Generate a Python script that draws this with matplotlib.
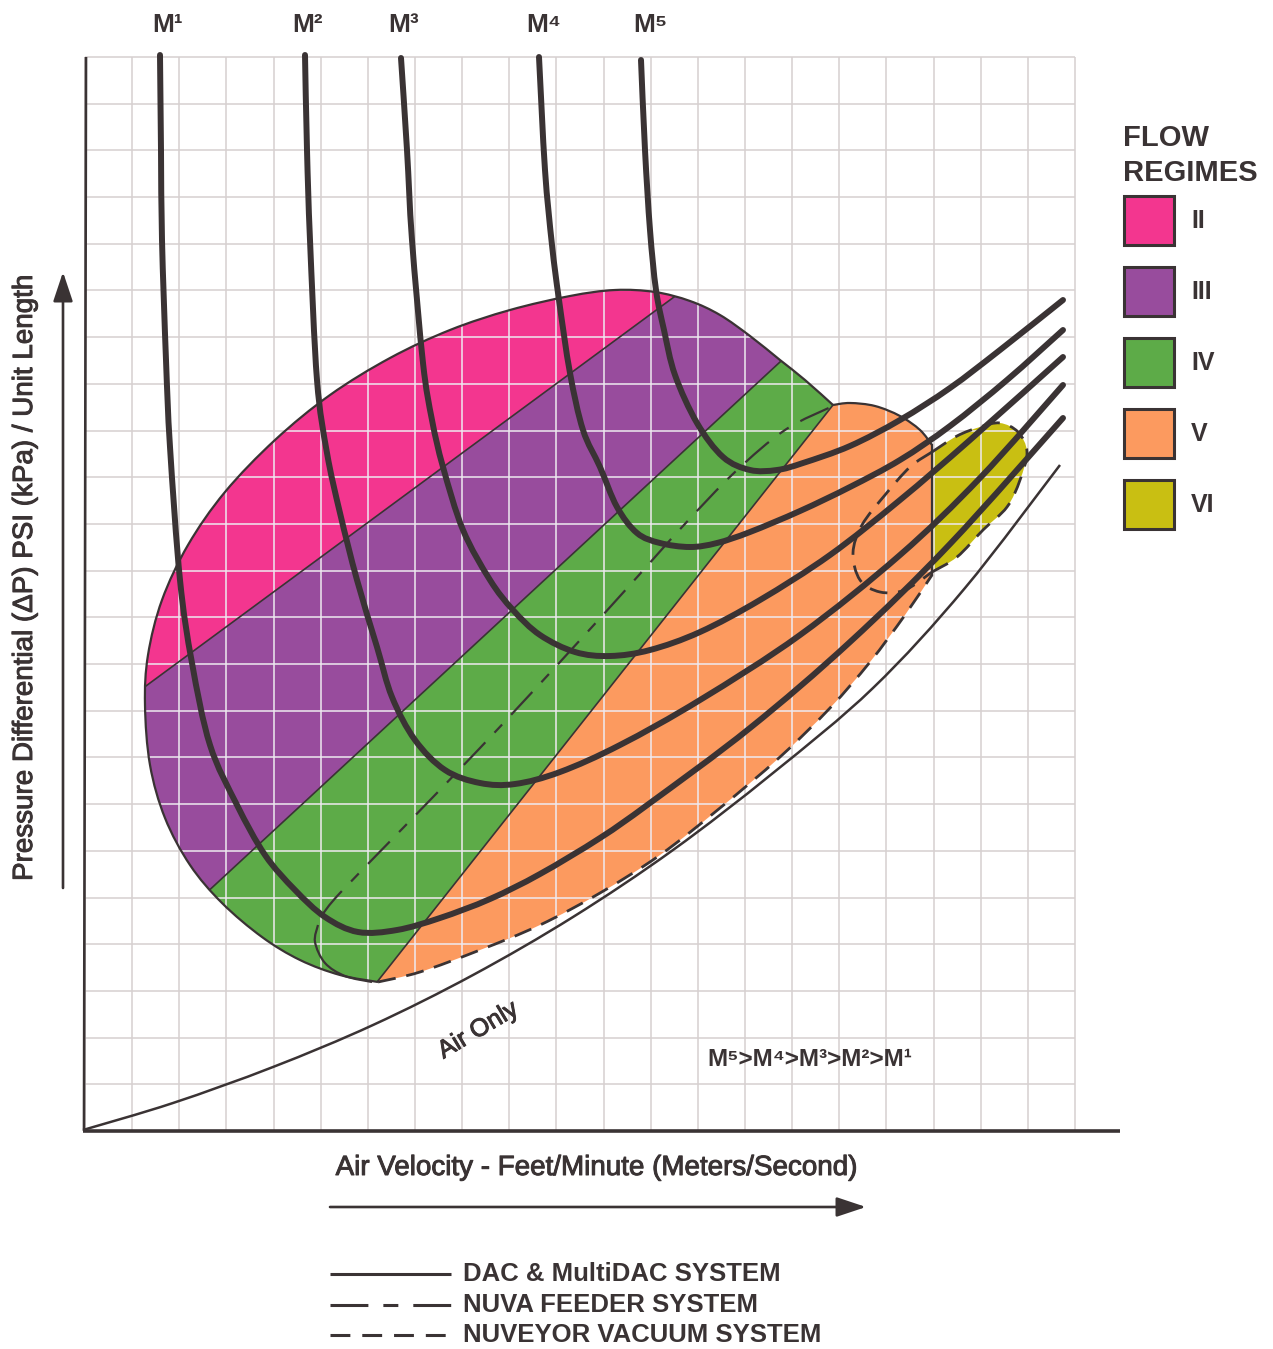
import numpy as np
import matplotlib
matplotlib.use("Agg")
import matplotlib.pyplot as plt
from matplotlib.path import Path
from matplotlib.patches import PathPatch, Polygon, Rectangle
import matplotlib.patheffects as pe

# pixel-space drawing of a pneumatic conveying phase diagram
W, H = 1273, 1349
DARK = "#3a3334"
FONT = ["Liberation Sans", "DejaVu Sans"]

# flow regime colours
regime_names = ["II", "III", "IV", "V", "VI"]
regime_colors = ["#f3368f", "#984c9d", "#5dab48", "#fc9a5f", "#c9bf12"]

# M curves (material loading), traced top -> minimum -> right end
m_labels = ["M¹", "M²", "M³", "M⁴", "M⁵"]
m1 = [(160, 55), (161, 150), (162, 240), (166, 360), (170, 447), (180, 580), (192, 663),
      (210, 745), (237, 805), (265, 855), (295, 890), (325, 917), (358, 932), (397, 930),
      (440, 918), (490, 899), (540, 874), (600, 838), (650, 803), (750, 728), (850, 642),
      (950, 544), (1063, 418)]
m2 = [(305, 55), (307, 150), (310, 240), (317, 380), (327, 453), (340, 513), (357, 580),
      (377, 647), (392, 697), (415, 740), (445, 770), (480, 783), (515, 784), (560, 772),
      (620, 745), (700, 700), (800, 635), (900, 555), (980, 478), (1063, 385)]
m3 = [(401, 58), (407, 150), (412, 240), (423, 363), (432, 420), (443, 467), (463, 530),
      (490, 580), (513, 610), (540, 635), (575, 652), (610, 656), (650, 650), (700, 632),
      (760, 600), (830, 555), (900, 500), (970, 440), (1063, 357)]
m4 = [(539, 57), (545, 170), (552, 245), (559, 300), (570, 373), (583, 430), (600, 467),
      (617, 507), (637, 533), (660, 543), (690, 547), (717, 543), (750, 532), (800, 511),
      (850, 487), (900, 460), (950, 426), (1007, 380), (1063, 330)]
m5 = [(641, 60), (645, 150), (650, 230), (656, 290), (664, 330), (675, 375), (697, 423),
      (723, 457), (750, 470), (777, 470), (803, 463), (850, 446), (900, 420), (950, 388),
      (1000, 350), (1063, 300)]
m_curves = [m1, m2, m3, m4, m5]
m_label_x = [168, 308, 404, 544, 650]

air_only = [(83, 1130), (173, 1103), (273, 1067), (373, 1025), (473, 975), (573, 917),
            (673, 850), (773, 773), (873, 688), (965, 588), (1060, 465)]

# envelope of the coloured area
blob_top = [(378, 982), (340, 975), (300, 960), (262, 937), (222, 903), (190, 865),
            (165, 818), (150, 765), (145, 705), (148, 655), (162, 600), (188, 545),
            (225, 492), (275, 440), (330, 395), (390, 358), (450, 330), (510, 310),
            (570, 296), (615, 290), (655, 292), (690, 301), (720, 315), (750, 336),
            (780, 360), (805, 380), (833, 405)]
orange_arc = [(833, 405), (850, 403), (875, 406), (900, 416), (920, 430), (932, 445)]
vac_lower = [(378, 982), (420, 972), (480, 950), (540, 925), (600, 893), (660, 855),
             (720, 808), (780, 757), (830, 708), (870, 662), (905, 615), (932, 575)]
vi_edge_x = 932

# straight boundaries between regimes
pink_purple = [(150, 683), (674, 297)]
purple_green = [(203, 896), (780, 362)]
green_orange = [(377, 982), (833, 405)]

# NUVA feeder and NUVEYOR vacuum limits
nuva_hook = [(372, 982), (345, 976), (325, 963), (315, 942), (318, 925)]
nuva_line = [(322, 915), (340, 893), (403, 828), (480, 748), (560, 662), (630, 585),
             (683, 526), (735, 472), (785, 430), (833, 406)]
vac_inner = [(932, 452), (910, 467), (885, 495), (862, 525), (853, 553), (860, 580),
             (880, 592), (905, 590), (932, 572)]
vi_outline = [(932, 572), (957, 557), (983, 530), (1007, 507), (1020, 480), (1027, 452),
              (1018, 432), (1000, 423), (980, 427), (957, 436), (932, 452)]


def smooth(pts):
    P = np.asarray(pts, float)
    n = len(P)
    verts = [P[0]]
    codes = [Path.MOVETO]
    for i in range(n - 1):
        p0 = P[max(i - 1, 0)]
        p1, p2 = P[i], P[i + 1]
        p3 = P[min(i + 2, n - 1)]
        verts += [p1 + (p2 - p0) / 6, p2 - (p3 - p1) / 6, p2]
        codes += [Path.CURVE4] * 3
    return verts, codes


def curve(pts, **kw):
    v, c = smooth(pts)
    p = PathPatch(Path(v, c), fill=False, **kw)
    ax.add_patch(p)
    return p


def line_y(seg, x):
    (x0, y0), (x1, y1) = seg
    return y0 + (y1 - y0) * (x - x0) / (x1 - x0)


fig = plt.figure(figsize=(W / 100, H / 100), dpi=100)
ax = fig.add_axes([0, 0, 1, 1])
ax.set_xlim(0, W)
ax.set_ylim(H, 0)
ax.axis("off")

# grid
gx = np.linspace(85, 1075, 22)
gy = np.linspace(57, 1131, 24)
ax.vlines(gx, 57, 1131, color="#d6d0d0", lw=1.1, zorder=1)
ax.hlines(gy, 85, 1075, color="#d6d0d0", lw=1.1, zorder=1)

# coloured envelope
v1, c1 = smooth(blob_top)
v2, c2 = smooth(orange_arc)
v3, c3 = smooth(vac_lower[::-1])
verts = v1 + v2[1:] + [(vi_edge_x, 575)] + v3[1:] + [v1[0]]
codes = c1 + c2[1:] + [Path.LINETO] + c3[1:] + [Path.CLOSEPOLY]
blob = PathPatch(Path(verts, codes), facecolor="none", edgecolor="none")
ax.add_patch(blob)

xa, xb = -200, 1000
bands = [
    [(xa, -1000), (xb, -1000), (xb, line_y(pink_purple, xb)), (xa, line_y(pink_purple, xa))],
    [(xa, line_y(pink_purple, xa)), (xb, line_y(pink_purple, xb)),
     (xb, line_y(purple_green, xb)), (xa, line_y(purple_green, xa))],
    [(xa, line_y(purple_green, xa)), (xb, line_y(purple_green, xb)),
     (xb, line_y(green_orange, xb)), (xa, line_y(green_orange, xa))],
    [(xa, line_y(green_orange, xa)), (1300, line_y(green_orange, 1300)), (1300, 3000), (xa, 3000)],
]
for poly, col in zip(bands, regime_colors[:4]):
    p = Polygon(poly, closed=True, facecolor=col, edgecolor="none", zorder=2)
    ax.add_patch(p)
    p.set_clip_path(blob)

vv, vc = smooth(vi_outline)
vi_patch = PathPatch(Path(vv + [vv[0]], vc + [Path.CLOSEPOLY]),
                     facecolor=regime_colors[4], edgecolor="none", zorder=2)
ax.add_patch(vi_patch)

# pale grid over the coloured areas
for clip in (blob, vi_patch):
    a = ax.vlines(gx, 57, 1131, color="#eeeaf0", lw=1.1, zorder=3)
    b = ax.hlines(gy, 85, 1075, color="#eeeaf0", lw=1.1, zorder=3)
    a.set_clip_path(clip)
    b.set_clip_path(clip)

# regime boundaries
for seg in (pink_purple, purple_green, green_orange):
    (x0, y0), (x1, y1) = seg
    ln, = ax.plot([x0 - 50, x1 + 50], [line_y(seg, x0 - 50), line_y(seg, x1 + 50)],
                  color=DARK, lw=1.2, zorder=4)
    ln.set_clip_path(blob)

# envelope outline
curve(blob_top, edgecolor=DARK, lw=1.6, zorder=4)
curve(orange_arc, edgecolor=DARK, lw=1.6, zorder=4)
ax.plot([vi_edge_x, vi_edge_x], [445, 575], color=DARK, lw=1.6, zorder=4)
vac_ls = (0, (6.5, 3.9))
curve(vac_lower, edgecolor=DARK, lw=2.0, linestyle=vac_ls, zorder=4)
curve(vac_inner, edgecolor=DARK, lw=2.0, linestyle=vac_ls, zorder=4)
curve(vi_outline, edgecolor=DARK, lw=2.0, linestyle=vac_ls, zorder=4)

nuva_ls = (0, (12.4, 4.9, 4.9, 4.9))
curve(nuva_hook, edgecolor=DARK, lw=1.6, zorder=4)
curve(nuva_line, edgecolor=DARK, lw=1.6, linestyle=(0, (14, 6, 5, 6)), zorder=4)

# air-only line and M curves
curve(air_only, edgecolor=DARK, lw=1.8, zorder=5)
for pts in m_curves:
    curve(pts, edgecolor=DARK, lw=4.3, capstyle="round", joinstyle="round", zorder=6)

# axes
ax.plot([86, 84], [57, 1131], color=DARK, lw=1.9, zorder=7, solid_capstyle="butt")
ax.plot([83, 1120], [1131, 1131], color=DARK, lw=2.6, zorder=7, solid_capstyle="butt")

# labels
medium = [pe.withStroke(linewidth=0.7, foreground=DARK)]
for lab, x in zip(m_labels, m_label_x):
    ax.text(x, 25, lab, ha="center", va="center", fontsize=19, fontweight="bold",
            color=DARK, family=FONT)

ax.text(25, 578, "Pressure Differential (ΔP) PSI (kPa) / Unit Length", rotation=90,
        ha="center", va="center", fontsize=20, color=DARK, family=FONT, path_effects=medium)
ax.text(596, 1168, "Air Velocity - Feet/Minute (Meters/Second)", ha="center", va="center",
        fontsize=20, color=DARK, family=FONT, path_effects=medium)
ax.text(478, 1030, "Air Only", rotation=31, ha="center", va="center", fontsize=18,
        color=DARK, family=FONT, path_effects=medium)
ax.text(707, 1060, "M⁵>M⁴>M³>M²>M¹", ha="left", va="center", fontsize=17.5,
        fontweight="bold", color=DARK, family=FONT)

arrow = dict(arrowstyle="-|>,head_length=0.9,head_width=0.3", lw=1.9, color=DARK,
             shrinkA=0, shrinkB=0, mutation_scale=20)
ax.annotate("", xy=(63, 272), xytext=(63, 888), arrowprops=arrow)
ax.annotate("", xy=(866, 1207), xytext=(330, 1207), arrowprops=arrow)

# flow regime key
ax.text(1123, 138, "FLOW", ha="left", va="center", fontsize=21, fontweight="bold",
        color=DARK, family=FONT)
ax.text(1123, 173, "REGIMES", ha="left", va="center", fontsize=21, fontweight="bold",
        color=DARK, family=FONT)
key_y = [196, 267, 338, 409, 480]
for name, col, y in zip(regime_names, regime_colors, key_y):
    ax.add_patch(Rectangle((1124, y), 50, 49, facecolor=col, edgecolor=DARK, lw=2.2, zorder=7))
    ax.text(1191, y + 25, name, ha="left", va="center", fontsize=18, fontweight="bold",
            color=DARK, family=FONT)

# system line-style key
systems = ["DAC & MultiDAC SYSTEM", "NUVA FEEDER SYSTEM", "NUVEYOR VACUUM SYSTEM"]
sys_styles = ["-", nuva_ls, vac_ls]
sys_y = [1274, 1305, 1335]
for name, ls, y in zip(systems, sys_styles, sys_y):
    ax.plot([330, 451], [y, y], color=DARK, lw=2.2, linestyle=ls, solid_capstyle="butt",
            dash_capstyle="butt")
    ax.text(463, y, name, ha="left", va="center", fontsize=18.5, fontweight="bold",
            color=DARK, family=FONT)

fig.savefig("out.png", dpi=100, facecolor="white")
